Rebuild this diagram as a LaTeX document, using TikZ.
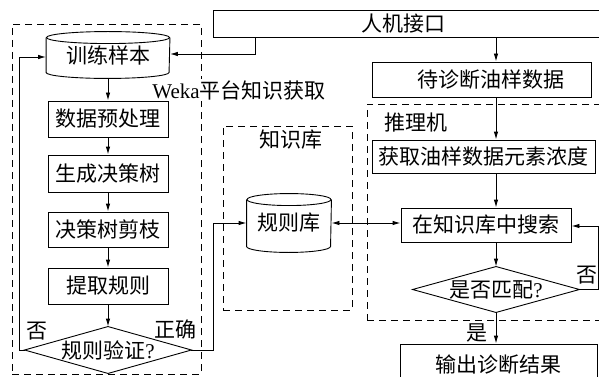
\documentclass[tikz,border=0pt]{standalone}
\usepackage{fontspec}
\setmainfont{Liberation Serif}
\newfontfamily\cjk{Noto Sans CJK SC}
\usetikzlibrary{arrows.meta}
\newcommand\drawcyl[2]{% #1 node name, #2 half width (pt)
  \draw ([yshift=-6pt]#1.north west) -- ([yshift=6pt]#1.south west)
        arc[start angle=180,end angle=360,x radius=#2pt,y radius=6pt]
        -- ([yshift=-6pt]#1.north east);
  \draw ([yshift=-6pt]#1.north) ellipse[x radius=#2pt,y radius=6pt];
}
\begin{document}
\begin{tikzpicture}[x=1pt,y=-1pt,
  font=\cjk\fontsize{21}{24}\selectfont,
  line width=0.9pt,
  box/.style={draw, rectangle, inner sep=0pt},
  hid/.style={draw=none, rectangle, inner sep=0pt},
  dbox/.style={draw, rectangle, inner sep=0pt, dash pattern=on 7pt off 5pt},
  arr/.style={-{Latex[length=8pt,width=4.5pt]}},
  lbl/.style={inner sep=0pt}]
\useasboundingbox (0,0) rectangle (599,377);
\clip (0,0) rectangle (599,377);

% dashed regions
\node[dbox, minimum width=189pt, minimum height=350pt] (weka) at (106.5,199) {};
\node[dbox, minimum width=129pt, minimum height=184pt] (kb) at (287.5,218) {};
\node[dbox, minimum width=243pt, minimum height=216pt] (infer) at (488.5,212) {};

% region labels
\node[lbl, anchor=west, fill=white, inner sep=1pt] (wekalbl) at (151,90) {{\rmfamily Weka}平台知识获取};
\node[lbl] (kblbl) at (291,140) {知识库};
\node[lbl] (inflbl) at (416,123) {推理机};

% top interface
\node[box, minimum width=390pt, minimum height=27pt] (hmi) at (408,23.5) {人机接口\hspace*{10pt}};

% left column
\node[hid, minimum width=123pt, minimum height=46pt] (train) at (108,55) {训练样本};
\drawcyl{train}{61.5}
\node[box, minimum width=120pt, minimum height=36pt] (pre) at (108,119) {数据预处理};
\node[box, minimum width=120pt, minimum height=37pt] (gen) at (108,173.5) {生成决策树};
\node[box, minimum width=120pt, minimum height=35pt] (prune) at (108,229.5) {决策树剪枝};
\node[box, minimum width=120pt, minimum height=36pt] (extract) at (108,286) {提取规则};
\node[hid, minimum width=166pt, minimum height=46pt] (verify) at (108,350) {规则验证{\rmfamily ?}};
\draw (verify.west) -- (verify.north) -- (verify.east) -- (verify.south) -- cycle;

% rule base
\node[hid, minimum width=84pt, minimum height=58pt] (rules) at (289,223) {规则库};
\drawcyl{rules}{42}

% right column
\coordinate (col) at (496,0);
\node[box, minimum width=219pt, minimum height=35pt] (wait) at (481.5,79.5) {\hspace*{19pt}待诊断油样数据};
\node[box, minimum width=223pt, minimum height=33pt] (get) at (483.5,156.5) {获取油样数据元素浓度};
\node[box, minimum width=170pt, minimum height=34pt] (search) at (486,225) {在知识库中搜索};
\node[hid, minimum width=166pt, minimum height=45pt] (match) at (496,289.5) {是否匹配{\rmfamily ?}};
\draw (match.west) -- (match.north) -- (match.east) -- (match.south) -- cycle;
\node[box, minimum width=197pt, minimum height=42pt] (out) at (498.5,365) {输出诊断结果};

% left column arrows
\draw[arr] (train.south) -- (pre.north);
\draw[arr] (pre.south) -- (gen.north);
\draw[arr] (gen.south) -- (prune.north);
\draw[arr] (prune.south) -- (extract.north);
\draw[arr] (extract.south) -- (verify.north);

% interface to training samples
\coordinate (h1) at (255,54);
\draw[arr] (hmi.south -| h1) -- (h1) -- (train.east |- h1);

% "no" loop back to training samples
\coordinate (lx) at (19,57);
\draw[arr] (verify.west) -- (verify.west -| lx) -- (lx) -- (train.west |- lx);
\node[lbl] (nol) at (37,331) {否};

% "correct" to rule base
\coordinate (rx) at (213,223);
\draw[arr] (verify.east) -- (verify.east -| rx) -- (rx) -- (rules.west |- rx);
\node[lbl] (ok) at (175,329) {正确};

% rule base <-> search
\draw[{Latex[length=8pt,width=4.5pt]}-{Latex[length=8pt,width=4.5pt]}] (rules.east) -- (rules.east -| search.west);

% right column arrows
\draw[arr] (hmi.south -| col) -- (wait.north -| col);
\draw[arr] (wait.south -| col) -- (get.north -| col);
\draw[arr] (get.south -| col) -- (search.north -| col);
\draw[arr] (search.south -| col) -- (match.north);
\draw[arr] (match.south) -- (out.north -| col);
\node[lbl] (yes) at (477,333) {是};

% "no" loop back to search
\coordinate (nx) at (598,226);
\draw[arr] (match.east) -- (match.east -| nx) -- (nx) -- (search.east |- nx);
\node[lbl] (nor) at (587,275) {否};
\end{tikzpicture}
\end{document}
